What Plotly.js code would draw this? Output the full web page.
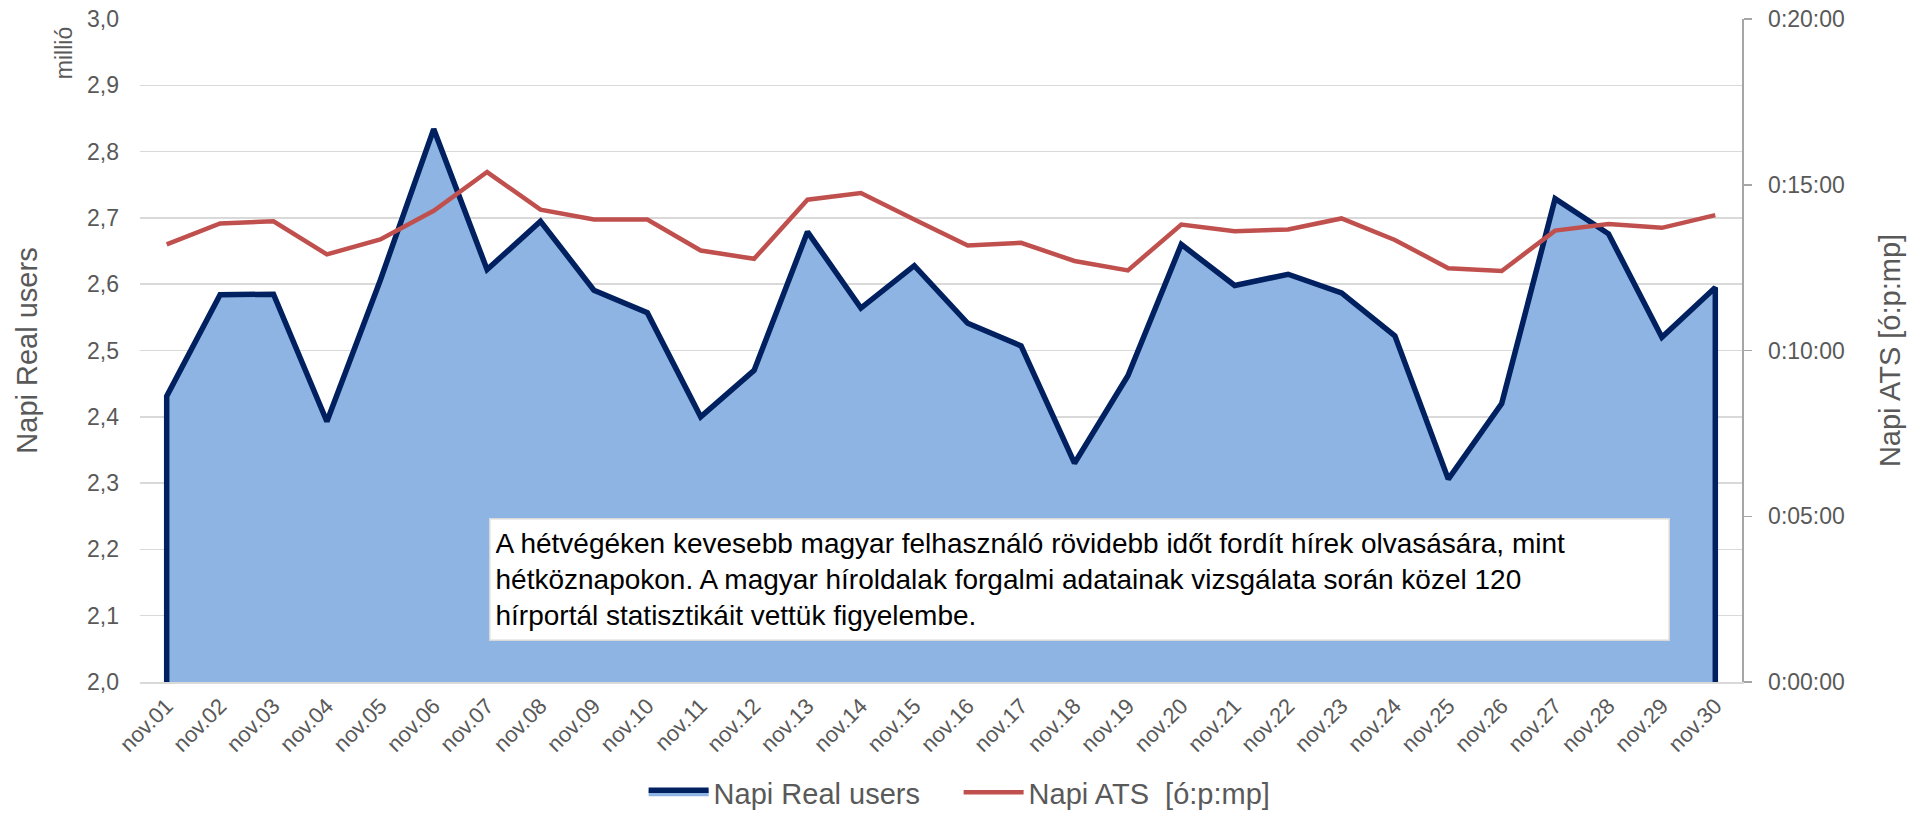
<!DOCTYPE html>
<html>
<head>
<meta charset="utf-8">
<script src="https://cdn.plot.ly/plotly-3.0.1.min.js"></script>
<style>
  html, body { margin: 0; padding: 0; background: #ffffff; }
  #chart { width: 1911px; height: 813px; }
</style>
</head>
<body>
<div id="chart"></div>
<script>
// ---- Data ----
const categories = ['nov.01','nov.02','nov.03','nov.04','nov.05','nov.06','nov.07','nov.08','nov.09','nov.10',
                    'nov.11','nov.12','nov.13','nov.14','nov.15','nov.16','nov.17','nov.18','nov.19','nov.20',
                    'nov.21','nov.22','nov.23','nov.24','nov.25','nov.26','nov.27','nov.28','nov.29','nov.30'];
// Napi Real users (millió)
const realUsers = [2.431, 2.584, 2.585, 2.393, 2.606, 2.834, 2.622, 2.695, 2.591, 2.557,
                   2.400, 2.470, 2.679, 2.564, 2.628, 2.541, 2.507, 2.330, 2.462, 2.660,
                   2.598, 2.615, 2.587, 2.522, 2.306, 2.420, 2.729, 2.676, 2.520, 2.595];
// Napi ATS in seconds
const atsSeconds = [792, 830, 834, 774, 801, 853, 923, 855, 837, 837,
                    781, 766, 873, 885, 837, 790, 795, 762, 745, 828,
                    816, 819, 839, 800, 749, 744, 817, 829, 822, 845];
const leftRange = [2.0, 3.0];
const rightTickVals = [0, 300, 600, 900, 1200];
const rightTickText = ['0:00:00', '0:05:00', '0:10:00', '0:15:00', '0:20:00'];
const seriesNames = ['Napi Real users', 'Napi ATS \u00a0[ó:p:mp]'];
const noteText = 'A hétvégéken kevesebb magyar felhasználó rövidebb időt fordít hírek olvasására, mint<br>' +
                 'hétköznapokon. A magyar híroldalak forgalmi adatainak vizsgálata során közel 120<br>' +
                 'hírportál statisztikáit vettük figyelembe.';

// Closed area outline (down to the axis minimum at both ends)
const areaX = [categories[0]].concat(categories, [categories[categories.length - 1]]);
const areaY = [leftRange[0]].concat(realUsers, [leftRange[0]]);

const FONT = 'Liberation Sans, Arial, sans-serif';
const GRAY = '#595959';

const traces = [
  {
    type: 'scatter', mode: 'lines', name: seriesNames[0],
    x: areaX, y: areaY, fill: 'toself', fillcolor: '#8EB4E3',
    line: { color: '#002060', width: 5.5, shape: 'linear' },
    xaxis: 'x', yaxis: 'y', hoverinfo: 'skip'
  },
  {
    type: 'scatter', mode: 'lines', name: seriesNames[1],
    x: categories, y: atsSeconds,
    line: { color: '#C0504D', width: 4.5 },
    xaxis: 'x', yaxis: 'y2', hoverinfo: 'skip'
  }
];

const layout = {
  width: 1911, height: 813,
  margin: { l: 140, r: 169, t: 19, b: 131, autoexpand: false },
  paper_bgcolor: '#ffffff', plot_bgcolor: '#ffffff',
  separators: ',.',
  font: { family: FONT, color: GRAY },
  showlegend: true,
  legend: {
    orientation: 'h', x: 0.511, xanchor: 'center', y: -0.128, yanchor: 'top',
    font: { family: FONT, size: 29, color: GRAY },
    traceorder: 'normal', itemwidth: 60, entrywidth: 240
  },
  xaxis: {
    type: 'category', range: [-0.5, 29.5], automargin: false,
    tickangle: -45, tickfont: { family: FONT, size: 22, color: GRAY },
    showgrid: false, showline: true, linecolor: '#D9D9D9', linewidth: 1.5,
    ticks: '', ticklabelstandoff: 1, zeroline: false, layer: 'below traces'
  },
  yaxis: {
    range: leftRange, dtick: 0.1, tick0: 2, tickformat: '.1f', automargin: false,
    tickfont: { family: FONT, size: 23, color: GRAY },
    showgrid: true, gridcolor: '#D9D9D9', gridwidth: 1.5,
    showline: false, ticks: '', zeroline: false, ticklabelstandoff: 20,
    title: { text: 'Napi Real users', font: { family: FONT, size: 29, color: GRAY }, standoff: 40 }
  },
  yaxis2: {
    overlaying: 'y', side: 'right', range: [0, 1200], automargin: false,
    tickvals: rightTickVals, ticktext: rightTickText,
    tickfont: { family: FONT, size: 23, color: GRAY },
    showgrid: false, zeroline: false,
    showline: true, linecolor: '#A6A6A6', linewidth: 1.5,
    ticks: 'outside', ticklen: 8, tickcolor: '#A6A6A6', tickwidth: 1.5,
    ticklabelstandoff: 12,
    title: { text: 'Napi ATS [ó:p:mp]', font: { family: FONT, size: 29, color: GRAY }, standoff: 36 }
  },
  annotations: [
    {
      xref: 'paper', yref: 'paper', x: -0.047, y: 0.948, xanchor: 'center', yanchor: 'middle',
      text: 'millió', textangle: -90, showarrow: false,
      font: { family: FONT, size: 23, color: GRAY }
    },
    {
      xref: 'paper', yref: 'paper', x: 0.5865, y: 0.155, xanchor: 'center', yanchor: 'middle',
      text: noteText, showarrow: false, align: 'left',
      width: 1168, height: 110, borderpad: 5,
      bgcolor: '#ffffff', bordercolor: '#D9D9D9', borderwidth: 1.5,
      font: { family: FONT, size: 28, color: '#000000' }
    }
  ]
};

Plotly.newPlot('chart', traces, layout, { staticPlot: true, displayModeBar: false });
</script>
</body>
</html>
